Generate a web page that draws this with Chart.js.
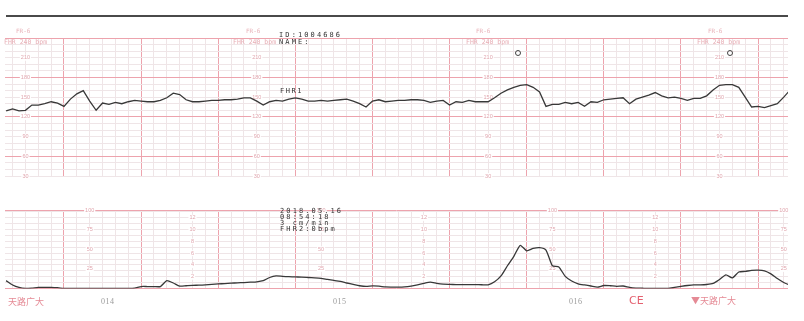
<!DOCTYPE html>
<html lang="zh">
<head>
<meta charset="UTF-8">
<title>CTG strip</title>
<style>
  body {
    margin: 0;
    width: 804px;
    height: 321px;
    overflow: hidden;
    position: relative;
    background: #fff;
    font-family: "DejaVu Sans Mono", monospace;
  }
  canvas { position: absolute; left: 0; }
  #fhrChart { top: 0; }
  #tocoChart { top: 190px; }
  .rule { position: absolute; left: 6px; top: 15px; width: 782px; height: 2px; background: #4a4a4a; }
  .t { position: absolute; white-space: nowrap; line-height: 1; }
  .pk { color: #e8b0b7; font-size: 6px; }
  .pk2 { color: #e8b0b7; font-size: 6.5px; }
  .ink { color: #333; font-size: 7px; letter-spacing: 2.1px; }
  .block { line-height: 6px; }
  .num { color: #9a9a9a; font-family: "Liberation Serif", serif; font-size: 8px; letter-spacing: 0.5px; }
  .red { color: #e58a95; font-family: "Noto Sans CJK SC", sans-serif; font-size: 9px; }
  .ce { color: #e4606f; font-family: "DejaVu Sans", sans-serif; font-size: 11px; }
  .ring { position: absolute; width: 4px; height: 4px; border: 1px solid #444; border-radius: 50%; }
</style>
</head>
<body>
  <div class="rule"></div>

  <canvas id="fhrChart" width="804" height="190"></canvas>
  <canvas id="tocoChart" width="804" height="131"></canvas>

  <div class="t pk" style="left:16px;top:28px">FR-6</div>
  <div class="t pk" style="left:246px;top:28px">FR-6</div>
  <div class="t pk" style="left:476px;top:28px">FR-6</div>
  <div class="t pk" style="left:708px;top:28px">FR-6</div>
  <div class="t pk2" style="left:4px;top:39px">FHR 240 bpm</div>
  <div class="t pk2" style="left:233px;top:39px">FHR 240 bpm</div>
  <div class="t pk2" style="left:466px;top:39px">FHR 240 bpm</div>
  <div class="t pk2" style="left:697px;top:39px">FHR 240 bpm</div>

  <div class="t ink" style="left:279px;top:32px">ID:1004686</div>
  <div class="t ink" style="left:279px;top:39px">NAME:</div>
  <div class="t ink" style="left:280px;top:88px;letter-spacing:1.5px">FHR1</div>
  <div class="ring" style="left:515px;top:50px"></div>
  <div class="ring" style="left:727px;top:50px"></div>

  <div class="t ink block" style="left:280px;top:208px">2018.05.16<br>08:54:18<br>3 cm/min<br>FHR2:0bpm</div>

  <div class="t red" style="left:8px;top:297px">天路广大</div>
  <div class="t num" style="left:101px;top:298px">014</div>
  <div class="t num" style="left:333px;top:298px">015</div>
  <div class="t num" style="left:569px;top:298px">016</div>
  <div class="t ce" style="left:629px;top:295px">CE</div>
  <div class="t red" style="left:691px;top:296px">▼天路广大</div>

  <script src="https://cdn.jsdelivr.net/npm/chart.js"></script>
  <script>
    // samples every 5 s, starting at t = 15 s
    const sampleStart = 15;
    const sampleStep = 5;

    const fhrBpm = [
      129, 132, 129, 130, 138, 138, 140, 143, 141, 136,
      147, 155, 160, 144, 130, 141, 139, 142, 140, 143,
      145, 144, 143, 143, 145, 149, 156, 154, 146, 143,
      143, 144, 145, 145, 146, 146, 147, 149, 149, 144,
      138, 143, 145, 144, 147, 149, 147, 144, 144, 145,
      144, 145, 146, 147, 144, 140, 135, 144, 146, 143,
      144, 145, 145, 146, 146, 145, 142, 144, 145, 138,
      143, 142, 145, 143, 143, 143, 149, 156, 161, 165,
      168, 169, 165, 158, 136, 139, 139, 142, 140, 142,
      136, 143, 142, 146, 147, 148, 149, 140, 147, 150,
      153, 157, 152, 149, 150, 148, 145, 148, 148, 152,
      161, 168, 169, 169, 165, 150, 135, 136, 134, 137,
      140, 150, 161
    ];

    const tocoPct = [
      10, 4.5, 1.3, 0, 0.5, 1.5, 1.5, 1.5, 1, 0,
      0, 0, 0, 0, 0, 0, 0, 0, 0, 0,
      0.5, 2.5, 2.5, 2.5, 2.5, 10, 7, 3, 3.5, 4,
      4.2, 4.6, 5.2, 5.8, 6.3, 6.8, 7.2, 7.6, 8, 8.5,
      10, 14, 16, 15.5, 15, 14.7, 14.5, 14, 13.5, 12.8,
      11.5, 10.3, 9, 7, 5.2, 3.5, 2.6, 3.3, 3, 2,
      1.8, 1.7, 2, 3, 4.6, 6.5, 8, 6.5, 5.5, 5.2,
      5, 5, 5, 5, 4.8, 4.7, 8.5, 16, 29, 41,
      55, 48, 51, 52, 49, 29, 27.5, 15.4, 9.5, 6,
      4.5, 3.2, 1.8, 3.8, 3.5, 2.8, 3.2, 1.5, 0.6, 0.3,
      0, 0, 0, 0, 1.3, 2.6, 3.8, 4.7, 4.7, 5.1,
      6.4, 11.5, 17.3, 13.5, 21, 21.8, 23, 23.3, 22.4, 18.6,
      12.8, 7.7, 4
    ];

    // printed scale labels and where they sit along the strip (seconds)
    const fhrTickLabels = [210, 180, 150, 120, 90, 60, 30];
    const fhrLabelTimes = [30, 210, 390, 570];
    const tocoTickLabels = [100, 75, 50, 25];
    const tocoLabelTimes = [80, 260, 440, 620];
    const kpaTickLabels = [12, 10, 8, 6, 4, 2];
    const kpaLabelTimes = [160, 340, 520];

    const tMin = 14.1, tMax = 623.3;
    const minorCol = '#efe5e7';
    const majorCol = '#eda3ad';

    const xGrid = [];
    for (let t = 20; t <= 620; t += 10) xGrid.push(t);
    const fhrGrid = [];
    for (let v = 30; v <= 240; v += 10) fhrGrid.push(v);
    const tocoGrid = [];
    for (let k = 0; k <= 13; k++) tocoGrid.push(k * 7.5);
    tocoGrid.push(100);

    function toPoints(arr) {
      return arr.map((v, i) => ({ x: sampleStart + i * sampleStep, y: v }));
    }

    const paperLabels = {
      id: 'paperLabels',
      beforeDatasetsDraw(chart, args, opts) {
        const ctx = chart.ctx;
        ctx.save();
        ctx.font = '5.5px "Liberation Sans"';
        ctx.textAlign = 'center';
        ctx.textBaseline = 'middle';
        opts.columns.forEach(col => {
          const yScale = chart.scales[col.axis];
          col.times.forEach(t => {
            const x = chart.scales.x.getPixelForValue(t);
            col.labels.forEach(v => {
              const y = yScale.getPixelForValue(v);
              const w = ctx.measureText(String(v)).width + 2;
              ctx.fillStyle = '#fff';
              ctx.fillRect(x - w / 2, y - 3, w, 6);
              ctx.fillStyle = '#e0a6ae';
              ctx.fillText(String(v), x, y);
            });
          });
        });
        ctx.restore();
      }
    };

    function xScale() {
      return {
        type: 'linear', min: tMin, max: tMax,
        afterBuildTicks: s => { s.ticks = xGrid.map(v => ({ value: v })); },
        ticks: { display: false },
        grid: { drawTicks: false, color: c => (c.tick && c.tick.value % 60 === 0) ? majorCol : minorCol, lineWidth: 1 },
        border: { display: false }
      };
    }

    new Chart(document.getElementById('fhrChart'), {
      type: 'line',
      data: {
        datasets: [{
          data: toPoints(fhrBpm),
          borderColor: '#383838',
          borderWidth: 1.3,
          pointRadius: 0,
          tension: 0
        }]
      },
      options: {
        responsive: false,
        animation: false,
        events: [],
        layout: { padding: { left: 5, right: 16, top: 38, bottom: 14 } },
        plugins: {
          legend: { display: false },
          tooltip: { enabled: false },
          paperLabels: { columns: [{ axis: 'y', times: fhrLabelTimes, labels: fhrTickLabels }] }
        },
        scales: {
          x: xScale(),
          y: {
            min: 30, max: 240,
            afterBuildTicks: s => { s.ticks = fhrGrid.map(v => ({ value: v })); },
            ticks: { display: false },
            grid: { drawTicks: false, color: c => (c.tick && c.tick.value % 60 === 0) ? majorCol : minorCol },
            border: { display: false }
          }
        }
      },
      plugins: [paperLabels]
    });

    new Chart(document.getElementById('tocoChart'), {
      type: 'line',
      data: {
        datasets: [{
          data: toPoints(tocoPct),
          borderColor: '#383838',
          borderWidth: 1.3,
          pointRadius: 0,
          tension: 0.2
        }]
      },
      options: {
        responsive: false,
        animation: false,
        events: [],
        layout: { padding: { left: 5, right: 16, top: 20, bottom: 32.5 } },
        plugins: {
          legend: { display: false },
          tooltip: { enabled: false },
          paperLabels: {
            columns: [
              { axis: 'y', times: tocoLabelTimes, labels: tocoTickLabels },
              { axis: 'kpa', times: kpaLabelTimes, labels: kpaTickLabels }
            ]
          }
        },
        scales: {
          x: xScale(),
          y: {
            min: 0, max: 100,
            afterBuildTicks: s => { s.ticks = tocoGrid.map(v => ({ value: v })); },
            ticks: { display: false },
            grid: { drawTicks: false, color: c => (c.tick && (c.tick.value === 100 || c.tick.value === 0)) ? majorCol : minorCol },
            border: { display: false }
          },
          kpa: {
            position: 'right',
            min: 0, max: 100 / 7.5,
            ticks: { display: false },
            grid: { display: false, drawTicks: false },
            border: { display: false }
          }
        }
      },
      plugins: [paperLabels]
    });
  </script>
</body>
</html>
